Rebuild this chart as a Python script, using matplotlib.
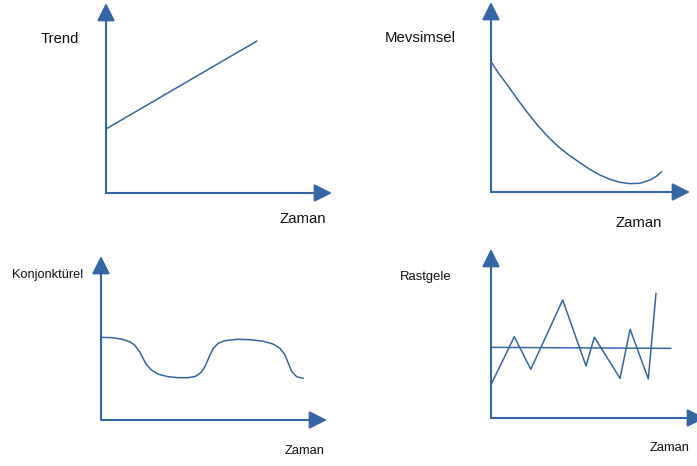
import matplotlib
matplotlib.use("Agg")
import matplotlib.pyplot as plt

plt.rcParams['font.family'] = ['Liberation Sans', 'DejaVu Sans']

W, H = 697, 466
BLUE = '#3465a4'

# ---- data (time, value), axes run 0..100 up to the arrow tips ----
trend_t = [0, 66.8]
trend_v = [33.7, 80.0]

mevsimsel_t = [0, 3.5, 8.5, 13.6, 18.6, 23.6, 28.6, 33.7, 38.7, 44.7, 49.7, 54.8,
               59.8, 64.8, 69.8, 74.9, 79.9, 83.3, 85.8]
mevsimsel_v = [68.6, 63.0, 55.9, 48.4, 41.4, 34.9, 29.1, 24.0, 19.8, 15.4, 11.9, 8.9,
               6.7, 5.1, 4.4, 4.6, 6.3, 8.4, 10.7]

konj_t = [0, 4.6, 9.0, 12.7, 14.9, 17.1, 18.6, 20.0, 22.3, 25.2, 29.6, 34.1, 38.5,
          41.8, 44.2, 46.0, 47.9, 49.7, 51.9, 54.9, 60.0, 65.9, 71.8, 76.2, 79.2,
          81.4, 82.9, 84.4, 86.6, 89.5]
konj_v = [50.4, 50.2, 49.4, 47.7, 45.7, 41.6, 37.6, 34.0, 30.5, 28.0, 26.4, 25.8, 25.8,
          26.6, 28.9, 32.5, 38.6, 43.7, 46.8, 48.4, 49.2, 49.0, 48.0, 46.3, 43.7,
          39.6, 34.6, 29.5, 26.4, 25.4]

rast_t = [0.3, 10.9, 18.6, 33.5, 44.4, 48.3, 60.3, 65.0, 73.5, 77.1]
rast_v = [20.5, 48.1, 28.8, 69.8, 30.8, 47.8, 23.5, 52.5, 23.1, 73.8]
rast_mean_t = [0, 84.1]
rast_mean_v = [41.8, 41.2]

labels_y = ['Trend', 'Mevsimsel', 'Konjonktürel', 'Rastgele']
label_x = 'Zaman'

fig = plt.figure(figsize=(W / 100, H / 100), dpi=100)


def panel(ox, oy, wpx, hpx):
    ax = fig.add_axes([ox / W, (H - oy) / H, wpx / W, hpx / H])
    ax.set_xlim(0, 100)
    ax.set_ylim(0, 100)
    ax.axis('off')
    style = '-|>,head_length=1,head_width=0.5'
    for xy in [(1, 0), (0, 1)]:
        ax.annotate('', xy=xy, xytext=(0, 0), xycoords='axes fraction',
                    textcoords='axes fraction',
                    arrowprops=dict(arrowstyle=style, mutation_scale=10.8,
                                    color=BLUE, lw=1.5, shrinkA=0, shrinkB=0),
                    annotation_clip=False)
    return ax


line_kw = dict(color=BLUE, lw=1.1, clip_on=False, solid_joinstyle='round',
               solid_capstyle='round')

ax1 = panel(106, 193, 226, 190)
ax1.plot(trend_t, trend_v, **line_kw)

ax2 = panel(491, 192, 199, 190)
ax2.plot(mevsimsel_t, mevsimsel_v, **line_kw)

ax3 = panel(101, 420, 226, 164)
ax3.plot(konj_t, konj_v, **line_kw)

ax4 = panel(491, 418, 214, 169)
ax4.plot(rast_mean_t, rast_mean_v, **line_kw)
ax4.plot(rast_t, rast_v, **line_kw)


def ftext(x, y, s, size):
    fig.text(x / W, 1 - y / H, s, ha='center', va='center', fontsize=size, color='#111111')


ftext(60, 39, labels_y[0], 10.7)
ftext(303, 219, label_x, 10.8)
ftext(420, 38, labels_y[1], 10.8)
ftext(639, 223, label_x, 10.7)
ftext(48, 275, labels_y[2], 9.2)
ftext(305, 451, label_x, 9.3)
ftext(426, 277, labels_y[3], 9.4)
ftext(670, 448, label_x, 9.3)

fig.savefig('out.png', dpi=100)
